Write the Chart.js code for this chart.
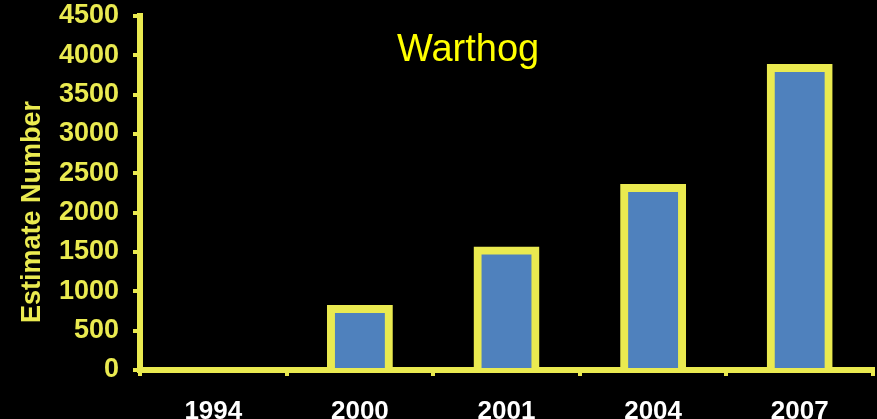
<!DOCTYPE html>
<html>
<head>
<meta charset="utf-8">
<script src="https://cdn.jsdelivr.net/npm/chart.js@4/dist/chart.umd.min.js"></script>
<style>
  html, body { margin: 0; padding: 0; background: #000; overflow: hidden; width: 877px; height: 419px; }
  #wrap { position: absolute; left: 0; top: 0; width: 877px; height: 450px; }
</style>
</head>
<body>
<div id="wrap"><canvas id="c"></canvas></div>
<script>
const categories = ['1994', '2000', '2001', '2004', '2007'];
const estimates = [0, 775, 1520, 2315, 3840];
const yTicks = [0, 500, 1000, 1500, 2000, 2500, 3000, 3500, 4000, 4500];
const chartTitle = 'Warthog';
const yAxisTitle = 'Estimate Number';

const YELLOW = '#EAEA50';
const FONT = "'Liberation Sans', Arial, sans-serif";

const textPlugin = {
  id: 'freeText',
  afterDraw(chart) {
    const ctx = chart.ctx;
    const area = chart.chartArea;
    ctx.save();
    ctx.fillStyle = '#FFFF00';
    ctx.font = "38px " + FONT;
    ctx.textBaseline = 'alphabetic';
    ctx.textAlign = 'left';
    ctx.fillText(chartTitle, 397, 61);
    ctx.restore();

    ctx.save();
    ctx.fillStyle = YELLOW;
    ctx.font = "bold 27px " + FONT;
    ctx.textAlign = 'center';
    ctx.textBaseline = 'middle';
    ctx.translate(33, (area.top + area.bottom) / 2 + 19);
    ctx.rotate(-Math.PI / 2);
    ctx.fillText(yAxisTitle, 0, 0);
    ctx.restore();
  }
};

new Chart(document.getElementById('c'), {
  type: 'bar',
  data: {
    labels: categories,
    datasets: [{
      data: estimates,
      backgroundColor: '#4F81BD',
      borderColor: YELLOW,
      borderWidth: 8,
      borderSkipped: 'start',
      inflateAmount: (c) => (c.raw ? 4 : 0),
      categoryPercentage: 1,
      barPercentage: 0.395
    }]
  },
  options: {
    responsive: true,
    maintainAspectRatio: false,
    animation: false,
    layout: { padding: { top: 16, right: 4, left: 0, bottom: 0 } },
    plugins: { legend: { display: false }, tooltip: { enabled: false } },
    scales: {
      x: {
        z: 1,
        grid: { display: true, drawOnChartArea: false, color: YELLOW, lineWidth: 4, tickLength: 6, offset: true },
        border: { display: true, color: YELLOW, width: 6 },
        ticks: { color: '#FFFFFF', font: { family: FONT, size: 26, weight: 'bold' }, padding: 20, maxRotation: 0 },
        afterFit: (s) => { s.height = 80; s.paddingLeft = 0; s.paddingRight = 0; }
      },
      y: {
        z: 1,
        min: 0,
        max: 4500,
        afterBuildTicks: (s) => { s.ticks = yTicks.map(v => ({ value: v })); },
        grid: { display: true, drawOnChartArea: false, color: YELLOW, lineWidth: 4, tickLength: 7 },
        border: { display: true, color: YELLOW, width: 6 },
        ticks: { color: YELLOW, font: { family: FONT, size: 27, weight: 'bold' }, padding: 14, callback: (v) => String(v) },
        title: { display: false },
        afterFit: (s) => { s.width = 140; s.paddingTop = 0; s.paddingBottom = 0; }
      }
    }
  },
  plugins: [textPlugin]
});
</script>
</body>
</html>
